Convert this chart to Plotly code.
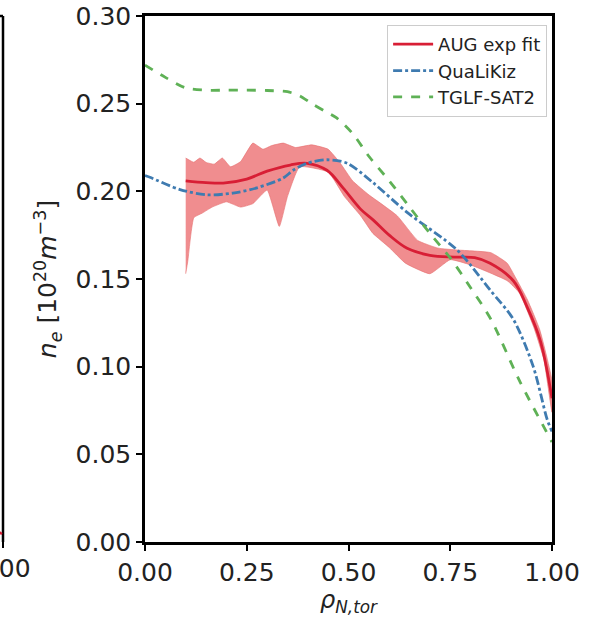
import plotly.graph_objects as go

# --- data ---
x_tglf = [0.00, 0.05, 0.10, 0.15, 0.20, 0.25, 0.30, 0.35, 0.38, 0.41, 0.44, 0.47, 0.51, 0.55, 0.60, 0.65, 0.70, 0.75, 0.80, 0.85, 0.92, 1.00]
y_tglf = [0.272, 0.265, 0.259, 0.2577, 0.2577, 0.2577, 0.2575, 0.2568, 0.2545, 0.250, 0.246, 0.242, 0.233, 0.220, 0.206, 0.191, 0.176, 0.162, 0.145, 0.127, 0.092, 0.057]

x_qlk = [0.00, 0.012, 0.086, 0.152, 0.216, 0.275, 0.339, 0.364, 0.398, 0.447, 0.497, 0.56, 0.644, 0.767, 0.848, 0.905, 0.954, 0.988, 1.00]
y_qlk = [0.209, 0.208, 0.201, 0.198, 0.199, 0.202, 0.2075, 0.212, 0.216, 0.218, 0.216, 0.205, 0.188, 0.1665, 0.1437, 0.127, 0.100, 0.070, 0.063]

x_aug = [0.10, 0.15, 0.192, 0.25, 0.30, 0.357, 0.398, 0.447, 0.487, 0.529, 0.561, 0.60, 0.644, 0.70, 0.76, 0.81, 0.848, 0.905, 0.939, 0.971, 1.00]
y_aug = [0.206, 0.205, 0.2047, 0.207, 0.2115, 0.215, 0.216, 0.212, 0.2018, 0.190, 0.1836, 0.175, 0.1675, 0.1635, 0.1625, 0.1622, 0.159, 0.149, 0.134, 0.115, 0.082]

x_upper = [0.10, 0.12, 0.135, 0.15, 0.17, 0.19, 0.21, 0.235, 0.265, 0.29, 0.31, 0.34, 0.37, 0.41, 0.45, 0.48, 0.51, 0.55, 0.58, 0.62, 0.67, 0.72, 0.77, 0.85, 0.89, 0.91, 0.94, 0.97, 1.00]
y_upper = [0.219, 0.2166, 0.219, 0.2165, 0.2155, 0.219, 0.214, 0.217, 0.2275, 0.224, 0.226, 0.2275, 0.225, 0.2265, 0.224, 0.216, 0.206, 0.198, 0.193, 0.186, 0.172, 0.1676, 0.1665, 0.165, 0.159, 0.151, 0.138, 0.121, 0.092]

x_lower = [0.10, 0.105, 0.12, 0.14, 0.165, 0.20, 0.235, 0.265, 0.30, 0.33, 0.35, 0.38, 0.45, 0.49, 0.53, 0.56, 0.60, 0.64, 0.70, 0.75, 0.80, 0.89, 0.92, 0.955, 0.98, 1.00]
y_lower = [0.153, 0.160, 0.185, 0.1875, 0.191, 0.194, 0.191, 0.193, 0.2007, 0.180, 0.197, 0.214, 0.211, 0.197, 0.186, 0.176, 0.168, 0.159, 0.153, 0.161, 0.158, 0.149, 0.142, 0.1226, 0.104, 0.074]

x_ticks = [0.0, 0.25, 0.5, 0.75, 1.0]
y_ticks = [0.0, 0.05, 0.10, 0.15, 0.20, 0.25, 0.30]

RED = "#d81e35"
BLUE = "#3f7bb0"
GREEN = "#5fb156"
FONT = "DejaVu Sans"

fig = go.Figure()

# uncertainty band (closed polygon)
fig.add_trace(go.Scatter(
    x=x_upper + x_lower[::-1], y=y_upper + y_lower[::-1],
    fill="toself", fillcolor="rgba(234,92,96,0.70)",
    line=dict(color="rgba(230,110,110,0.6)", width=1, shape="spline", smoothing=0.4),
    hoverinfo="skip", showlegend=False, mode="lines"))

fig.add_trace(go.Scatter(x=x_aug, y=y_aug, mode="lines", name="AUG exp fit", legendgroup="a",
                         line=dict(color=RED, width=2.8, shape="spline", smoothing=1.0)))
fig.add_trace(go.Scatter(x=x_qlk, y=y_qlk, mode="lines", name="QuaLiKiz", legendgroup="b",
                         line=dict(color=BLUE, width=2.8, dash="dashdot", shape="spline", smoothing=0.8)))
fig.add_trace(go.Scatter(x=x_tglf, y=y_tglf, mode="lines", name="TGLF-SAT2", legendgroup="c",
                         line=dict(color=GREEN, width=2.8, dash="dash", shape="spline", smoothing=0.8)))

axis_common = dict(
    showline=True, linecolor="black", linewidth=2.5, mirror=True,
    ticks="outside", ticklen=6, tickwidth=2, tickcolor="black",
    showgrid=False, zeroline=False,
    tickfont=dict(family=FONT, size=25, color="#222"),
)

fig.update_xaxes(range=[0, 1], tickvals=x_ticks, tickformat=".2f",
                 title=dict(text="<i>ρ<sub>N,tor</sub></i>", font=dict(family=FONT, size=24, color="#222"), standoff=4),
                 **axis_common)
fig.update_yaxes(range=[0, 0.30], tickvals=y_ticks, tickformat=".2f",
                 title=dict(text="<i>n<sub>e</sub></i> [10<sup>20</sup><i>m</i><sup>−3</sup>]",
                            font=dict(family=FONT, size=25, color="#222"), standoff=12),
                 **axis_common)

# remnant of neighbouring panel on the left (cropped)
W = 552 - 145
def px(p):
    return (p - 145) / W

fig.add_shape(type="line", xref="paper", yref="paper", x0=px(3), x1=px(3), y0=0, y1=1,
              line=dict(color="black", width=2.5))
fig.add_shape(type="line", xref="paper", yref="paper", x0=px(-5), x1=px(3), y0=1, y1=1,
              line=dict(color="black", width=2.5))
fig.add_shape(type="line", xref="paper", yref="paper", x0=px(3), x1=px(3), y0=0, y1=-6 / 527,
              line=dict(color="black", width=2))
fig.add_shape(type="line", xref="paper", yref="paper", x0=px(-3), x1=px(2), y0=11 / 527, y1=8 / 527,
              line=dict(color=RED, width=2.5))
fig.add_annotation(text="1.00", xref="paper", yref="paper", x=px(3), y=-10 / 527,
                   xanchor="center", yanchor="top", showarrow=False,
                   font=dict(family=FONT, size=25, color="#222"))

fig.update_layout(
    width=597, height=617,
    margin=dict(l=145, r=45, t=16, b=75, autoexpand=False),
    paper_bgcolor="white", plot_bgcolor="white",
    legend=dict(x=0.988, y=0.983, xanchor="right", yanchor="top",
                bgcolor="rgba(255,255,255,0.9)", bordercolor="#cccccc", borderwidth=1,
                font=dict(family=FONT, size=18, color="#222"), itemwidth=40,
                traceorder="grouped", tracegroupgap=0),
    showlegend=True,
)

fig.write_html("out.html")
